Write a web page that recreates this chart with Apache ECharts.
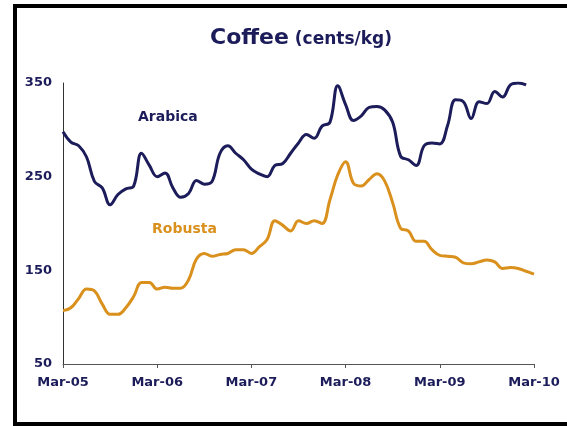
<!DOCTYPE html>
<html>
<head>
<meta charset="utf-8">
<script src="https://cdn.jsdelivr.net/npm/echarts@6/dist/echarts.min.js"></script>
<style>
html,body{margin:0;padding:0;background:#fff;}
#chart{width:567px;height:426px;}
</style>
</head>
<body>
<div id="chart"></div>
<script>
var categories = [
 "Mar-05","Apr-05","May-05","Jun-05","Jul-05","Aug-05","Sep-05","Oct-05","Nov-05","Dec-05","Jan-06","Feb-06",
 "Mar-06","Apr-06","May-06","Jun-06","Jul-06","Aug-06","Sep-06","Oct-06","Nov-06","Dec-06","Jan-07","Feb-07",
 "Mar-07","Apr-07","May-07","Jun-07","Jul-07","Aug-07","Sep-07","Oct-07","Nov-07","Dec-07","Jan-08","Feb-08",
 "Mar-08","Apr-08","May-08","Jun-08","Jul-08","Aug-08","Sep-08","Oct-08","Nov-08","Dec-08","Jan-09","Feb-09",
 "Mar-09","Apr-09","May-09","Jun-09","Jul-09","Aug-09","Sep-09","Oct-09","Nov-09","Dec-09","Jan-10","Feb-10",
 "Mar-10"
];
var arabica = [
 298,287,283,271,245,238,220,231,237,240,275,262,
 250,254,238,228,232,246,242,245,275,283,275,268,
 258,253,250,262,264,275,286,295,291,304,308,347,
 327,310,315,324,325,321,308,272,268,262,283,286,
 285,305,332,330,312,330,328,341,335,348,350,348,
 null
];
var robusta = [
 107,110,120,130,128,114,103,103,110,122,137,137,
 130,132,131,131,140,162,168,165,167,168,172,172,
 168,175,183,203,198,192,203,200,203,200,225,252,
 266,243,240,247,253,245,222,195,192,181,181,172,
 166,165,164,158,157,159,161,159,152,153,152,149,
 146
];
var yTicks = {min:50, max:350, interval:100};

var navy = '#1c1c5a';
var orange = '#d9901c';

var chart = echarts.init(document.getElementById('chart'), null, {renderer:'canvas'});
chart.setOption({
  animation:false,
  backgroundColor:'#ffffff',
  textStyle:{fontFamily:'DejaVu Sans'},
  title:{
    text:'{a|Coffee}{b| (cents/kg)}',
    left:205,
    top:22,
    textStyle:{
      rich:{
        a:{fontSize:22,fontWeight:'bold',color:navy,fontFamily:'DejaVu Sans'},
        b:{fontSize:17,fontWeight:'bold',color:navy,fontFamily:'DejaVu Sans',padding:[3,0,0,0]}
      }
    }
  },
  grid:{left:63,right:33,top:83,bottom:62,containLabel:false},
  xAxis:{
    type:'category',
    data:categories,
    boundaryGap:false,
    axisLine:{lineStyle:{color:'#555',width:1}},
    axisTick:{show:true,interval:11,length:4,lineStyle:{color:'#555'}},
    axisLabel:{interval:11,margin:12,fontSize:13,fontWeight:'bold',color:navy},
    splitLine:{show:false}
  },
  yAxis:{
    type:'value',
    min:yTicks.min,max:yTicks.max,interval:yTicks.interval,
    axisLine:{show:true,lineStyle:{color:'#333',width:1}},
    axisTick:{show:false},
    axisLabel:{margin:11,fontSize:13,fontWeight:'bold',color:navy},
    splitLine:{show:false}
  },
  series:[
    {name:'Arabica',type:'line',data:arabica,smooth:0.4,showSymbol:false,
     lineStyle:{color:navy,width:3},itemStyle:{color:navy}},
    {name:'Robusta',type:'line',data:robusta,smooth:0.4,showSymbol:false,
     lineStyle:{color:orange,width:3},itemStyle:{color:orange}}
  ],
  graphic:[
    {type:'rect',shape:{x:15,y:6,width:700,height:418},
     style:{fill:'none',stroke:'#000',lineWidth:4},silent:true},
    {type:'text',left:138,top:110,style:{text:'Arabica',fill:navy,font:'bold 14px "DejaVu Sans"'}},
    {type:'text',left:152,top:222,style:{text:'Robusta',fill:orange,font:'bold 14px "DejaVu Sans"'}}
  ]
});
</script>
</body>
</html>
